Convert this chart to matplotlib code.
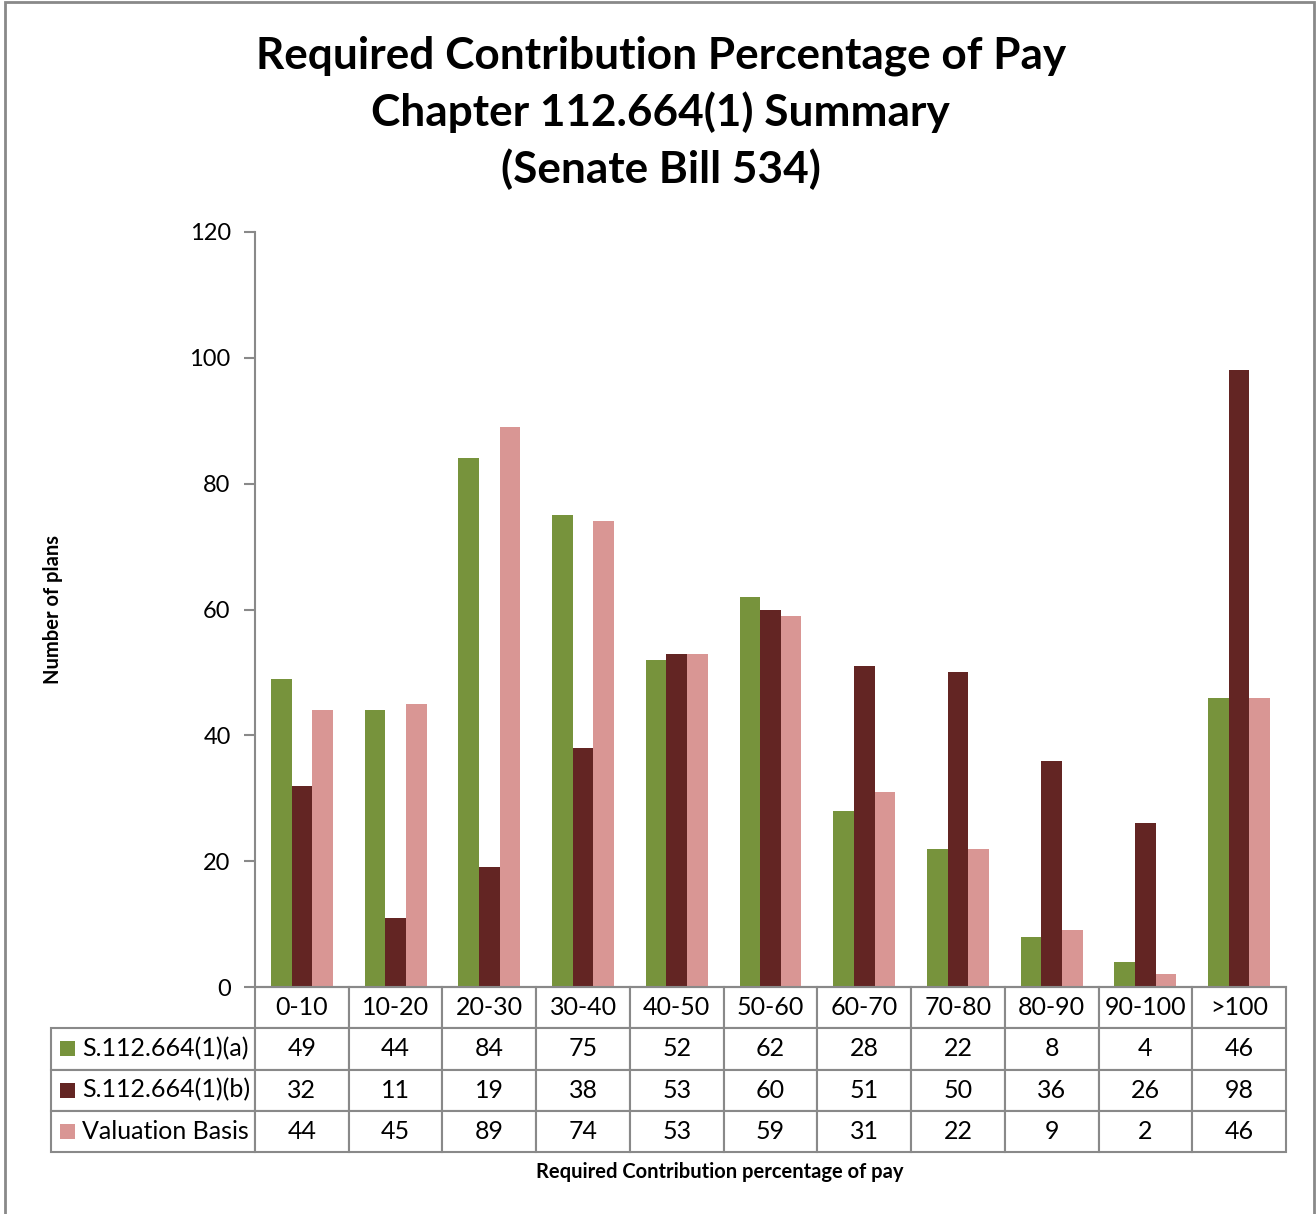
import matplotlib
matplotlib.use("Agg")
import matplotlib.pyplot as plt
from matplotlib.patches import Rectangle
import numpy as np

# ---------------------------------------------------------------- data
categories = ["0-10", "10-20", "20-30", "30-40", "40-50", "50-60",
              "60-70", "70-80", "80-90", "90-100", ">100"]
series_names = ["S.112.664(1)(a)", "S.112.664(1)(b)", "Valuation Basis"]
s_a = [49, 44, 84, 75, 52, 62, 28, 22, 8, 4, 46]
s_b = [32, 11, 19, 38, 53, 60, 51, 50, 36, 26, 98]
s_val = [44, 45, 89, 74, 53, 59, 31, 22, 9, 2, 46]
yticks = [0, 20, 40, 60, 80, 100, 120]

colors = ["#77933C", "#632523", "#D99694"]
grey = "#898989"

plt.rcParams["font.family"] = ["Lato", "DejaVu Sans"]

# ---------------------------------------------------------------- figure
W, H = 1316, 1214
fig = plt.figure(figsize=(W / 100, H / 100), dpi=100)

# outer chart frame
fig.patches.append(Rectangle((5 / W, -0.01), (1314 - 5) / W, 1.01 - 2 / H,
                             transform=fig.transFigure, fill=False,
                             edgecolor=grey, linewidth=2))

ax_l, ax_r, ax_t, ax_b = 255, 1286, 232, 987
ax = fig.add_axes([ax_l / W, 1 - ax_b / H, (ax_r - ax_l) / W, (ax_b - ax_t) / H])

x = np.arange(len(categories))
bw = 0.22
for k, vals in enumerate([s_a, s_b, s_val]):
    ax.bar(x + (k - 1) * bw, vals, width=bw, color=colors[k], label=series_names[k])

ax.set_xlim(-0.5, len(categories) - 0.5)
ax.set_ylim(0, 120)
ax.set_yticks(yticks)
ax.set_xticks([])
ax.tick_params(axis="y", labelsize=17, length=8, width=1.5, color=grey, pad=9.5)
for s in ["top", "right"]:
    ax.spines[s].set_visible(False)
for s in ["left", "bottom"]:
    ax.spines[s].set_color(grey)
    ax.spines[s].set_linewidth(1.5)

# ---------------------------------------------------------------- data table
tab_l = 51
tab_b = 1152
axw, axh = ax_r - ax_l, ax_b - ax_t
# bbox covers the data cells only, row labels hang off to the left
bbox = [0, (ax_b - tab_b) / axh, 1, (tab_b - ax_b) / axh]
row_lab_w = (ax_l - tab_l) / axw

cell_text = [[str(v) for v in row] for row in (s_a, s_b, s_val)]
tbl = ax.table(cellText=cell_text, rowLabels=series_names, colLabels=categories,
               colWidths=[1 / len(categories)] * len(categories),
               cellLoc="center", rowLoc="left", bbox=bbox)
tbl._autoColumns = []
tbl.auto_set_font_size(False)
tbl.set_fontsize(18)
for (r, c), cell in tbl.get_celld().items():
    cell.set_edgecolor(grey)
    cell.set_linewidth(1.5)
    if c == -1:
        cell.set_width(row_lab_w)
        cell.PAD = 31 / (ax_l - tab_l)

# legend keys in the row label cells
row_h = (tab_b - ax_b) / 4 / axh
for k in range(3):
    yc = bbox[1] + bbox[3] - row_h * (k + 1.5)
    ax.add_patch(Rectangle(((60 - ax_l) / axw, yc - 7.5 / axh), 15 / axw, 15 / axh,
                           transform=ax.transAxes, clip_on=False,
                           facecolor=colors[k], edgecolor="none"))

# ---------------------------------------------------------------- texts
fig.text(0.502, 1 - 113 / H,
         "Required Contribution Percentage of Pay\nChapter 112.664(1) Summary\n(Senate Bill 534)",
         ha="center", va="center", fontsize=31.8, fontweight="bold", linespacing=1.44)
fig.text(53 / W, 1 - 609 / H, "Number of plans", rotation=90, ha="center", va="center",
         fontsize=14.5, fontweight="bold")
fig.text(720 / W, 1 - 1172 / H, "Required Contribution percentage of pay",
         ha="center", va="center", fontsize=14.5, fontweight="bold")

fig.savefig("out.png", dpi=100)
